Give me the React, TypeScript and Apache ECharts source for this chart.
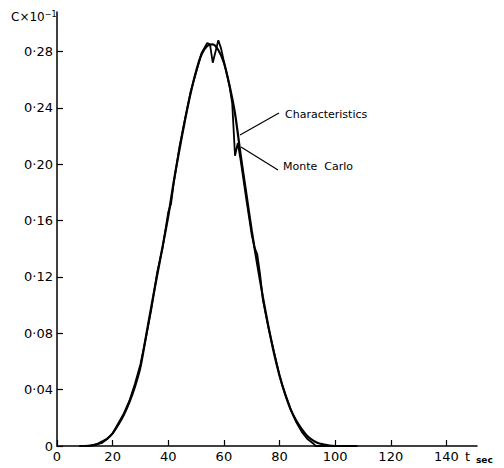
import React, { useEffect, useRef } from "react";
import * as echarts from "echarts";

const charT = [10,12,14,16,18,20,22,24,26,28,30,32,34,36,38,40,42,44,46,48,50,52,54,56,58,60,62,64,66,68,70,72,74,76,78,80,82,84,86,88,90,92,94,96,98,100];
const charC = [0,0.0003,0.001,0.003,0.005,0.009,0.015,0.022,0.031,0.042,0.056,0.078,0.100,0.121,0.142,0.163,0.188,0.210,0.231,0.250,0.266,0.278,0.284,0.285,0.281,0.272,0.256,0.236,0.207,0.180,0.153,0.129,0.106,0.085,0.066,0.050,0.037,0.026,0.018,0.012,0.007,0.004,0.002,0.001,0.0003,0];

const mcT = [8,12,16,18,20,22,24,26,28,30,32,34,36,38,40,41,42,44,45,46,48,50,52,54,55,56,57,58,59,60,62,63,64,65,66,68,70,71,72,73,74,76,78,80,81,82,84,86,88,90,92,93,100,108];
const mcC = [0,0.0003,0.002,0.005,0.009,0.016,0.023,0.032,0.044,0.058,0.077,0.098,0.123,0.141,0.166,0.172,0.187,0.212,0.222,0.232,0.251,0.265,0.279,0.286,0.285,0.272,0.280,0.288,0.282,0.273,0.256,0.243,0.206,0.215,0.203,0.176,0.150,0.141,0.136,0.122,0.104,0.084,0.067,0.050,0.043,0.037,0.026,0.017,0.010,0.005,0.002,0,0,0];

const xTicks = [0, 20, 40, 60, 80, 100, 120, 140];
const yTicks = [0, 0.04, 0.08, 0.12, 0.16, 0.2, 0.24, 0.28];
const yTickLabels = ["0", "0·04", "0·08", "0·12", "0·16", "0·20", "0·24", "0·28"];

const FONT = "DejaVu Sans";

export default function App() {
  const ref = useRef<HTMLDivElement>(null);
  useEffect(() => {
    if (!ref.current) return;
    const chart = echarts.init(ref.current, null, { renderer: "svg" });
    const charData = charT.map((t, i) => [t, charC[i]]);
    const mcData = mcT.map((t, i) => [t, mcC[i]]);
    chart.setOption({
      animation: false,
      backgroundColor: "#fff",
      grid: { left: 57, right: 27, top: 12, bottom: 22, containLabel: false },
      xAxis: {
        type: "value",
        min: 0,
        max: 151,
        axisLine: { show: true, onZero: false, lineStyle: { color: "#000", width: 1.5 } },
        axisTick: { show: true, inside: true, length: 6, customValues: xTicks, lineStyle: { color: "#000", width: 1.2 } },
        axisLabel: {
          customValues: xTicks,
          color: "#000",
          fontFamily: FONT,
          fontSize: 13,
          margin: 4,
        },
        splitLine: { show: false },
      },
      yAxis: {
        type: "value",
        min: 0,
        max: 0.308,
        axisLine: { show: true, onZero: false, lineStyle: { color: "#000", width: 1.5 } },
        axisTick: { show: true, inside: true, length: 6, customValues: yTicks, lineStyle: { color: "#000", width: 1.2 } },
        axisLabel: {
          customValues: yTicks,
          color: "#000",
          fontFamily: FONT,
          fontSize: 13,
          margin: 4,
          formatter: (v: number) => {
            const idx = yTicks.findIndex((t) => Math.abs(t - v) < 1e-6);
            return idx >= 0 ? yTickLabels[idx] : "";
          },
        },
        splitLine: { show: false },
      },
      series: [
        {
          name: "Characteristics",
          type: "line",
          data: charData,
          smooth: 0.3,
          showSymbol: false,
          lineStyle: { color: "#000", width: 2.2 },
        },
        {
          name: "Monte Carlo",
          type: "line",
          data: mcData,
          showSymbol: false,
          lineStyle: { color: "#000", width: 1.8 },
        },
      ],
      graphic: [
        {
          type: "text",
          left: 11,
          top: 10,
          style: {
            text: "{a|C×10}{b|−1}",
            rich: {
              a: { fontFamily: FONT, fontSize: 12, fill: "#000" },
              b: { fontFamily: FONT, fontSize: 8, fill: "#000", verticalAlign: "top", padding: [0, 0, 6, 0] },
            },
          },
        },
        {
          type: "text",
          left: 285,
          top: 109,
          style: { text: "Characteristics", fontFamily: FONT, fontSize: 11, fill: "#000" },
        },
        {
          type: "text",
          left: 283,
          top: 161,
          style: { text: "Monte  Carlo", fontFamily: FONT, fontSize: 11, fill: "#000" },
        },
        {
          type: "line",
          shape: { x1: 279, y1: 113, x2: 240, y2: 135 },
          style: { stroke: "#000", lineWidth: 1.2 },
        },
        {
          type: "line",
          shape: { x1: 278, y1: 170, x2: 241, y2: 147 },
          style: { stroke: "#000", lineWidth: 1.2 },
        },
        {
          type: "text",
          left: 465,
          top: 450,
          style: { text: "t", fontFamily: FONT, fontSize: 13, fill: "#000" },
        },
        {
          type: "text",
          left: 476,
          top: 455,
          style: { text: "sec", fontFamily: FONT, fontSize: 9, fontWeight: "bold", fill: "#000" },
        },
      ],
    });
    return () => chart.dispose();
  }, []);
  return <div ref={ref} style={{ width: 504, height: 468, position: "absolute", left: 0, top: 0 }} />;
}
